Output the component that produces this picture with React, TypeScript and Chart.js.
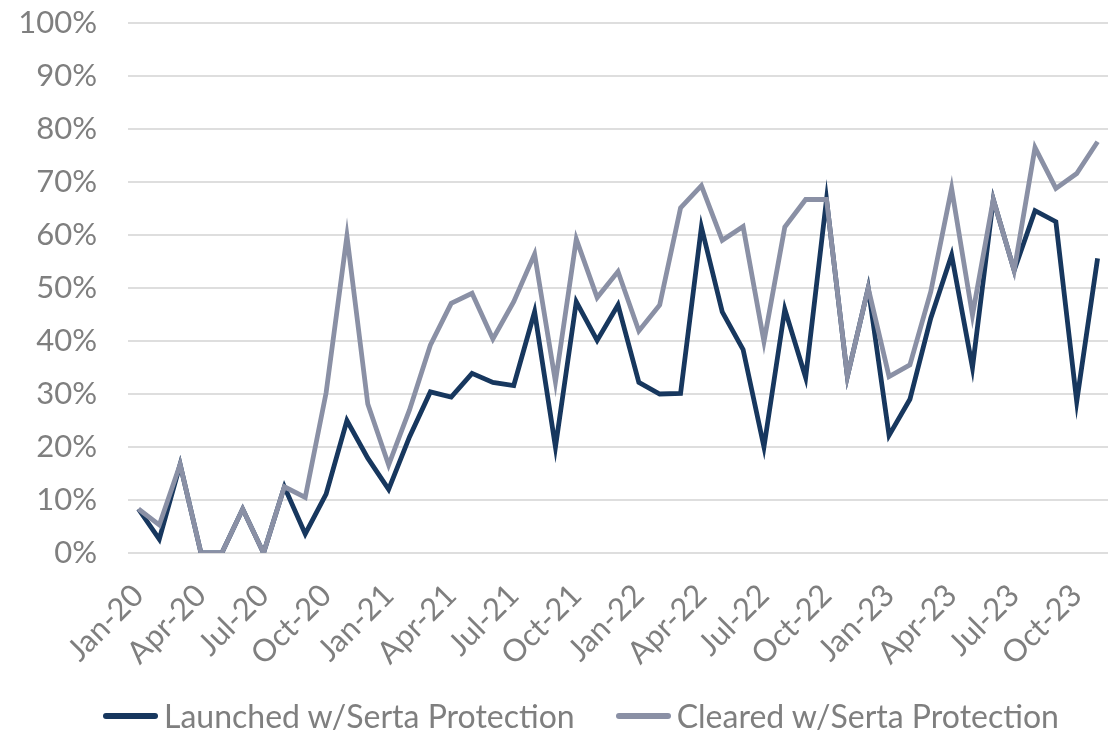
import React, { useEffect, useRef } from "react";
import { Chart, registerables } from "chart.js";

Chart.register(...registerables);

const months = [
  "Jan-20","Feb-20","Mar-20","Apr-20","May-20","Jun-20","Jul-20","Aug-20","Sep-20","Oct-20","Nov-20","Dec-20",
  "Jan-21","Feb-21","Mar-21","Apr-21","May-21","Jun-21","Jul-21","Aug-21","Sep-21","Oct-21","Nov-21","Dec-21",
  "Jan-22","Feb-22","Mar-22","Apr-22","May-22","Jun-22","Jul-22","Aug-22","Sep-22","Oct-22","Nov-22","Dec-22",
  "Jan-23","Feb-23","Mar-23","Apr-23","May-23","Jun-23","Jul-23","Aug-23","Sep-23","Oct-23","Nov-23",
];

const launched = [
  8.3, 2.6, 16.7, 0, 0, 8.3, 0, 12.5, 3.6, 11.1, 25.0, 17.9,
  12.0, 21.9, 30.4, 29.4, 33.9, 32.2, 31.6, 45.5, 20.0, 47.4, 40.1, 46.8,
  32.2, 30.0, 30.1, 61.5, 45.5, 38.4, 20.0, 46.0, 33.1, 66.7, 33.3, 50.0,
  22.2, 29.0, 44.3, 56.2, 35.0, 66.7, 53.3, 64.6, 62.5, 28.6, 55.6,
];

const cleared = [
  8.3, 5.3, 16.7, 0, 0, 8.3, 0, 12.5, 10.5, 30.2, 59.8, 28.1,
  16.6, 27.0, 39.2, 47.1, 49.0, 40.4, 47.4, 56.4, 32.3, 59.2, 48.2, 53.1,
  41.9, 46.8, 65.1, 69.3, 59.0, 61.6, 39.9, 61.5, 66.7, 66.7, 33.3, 50.0,
  33.3, 35.5, 49.3, 68.8, 44.9, 66.7, 53.3, 76.5, 68.8, 71.6, 77.6,
];

const seriesNames = ["Launched w/Serta Protection", "Cleared w/Serta Protection"];
const seriesColors = ["#17375E", "#8A90A5"];

export default function App() {
  const canvasRef = useRef<HTMLCanvasElement | null>(null);

  useEffect(() => {
    document.body.style.margin = "0";
    const canvas = canvasRef.current;
    if (!canvas) return;
    const chart = new Chart(canvas, {
      type: "line",
      data: {
        labels: months,
        datasets: [
          {
            label: seriesNames[1],
            data: cleared,
            borderColor: seriesColors[1],
            backgroundColor: seriesColors[1],
            borderWidth: 4.8,
            pointRadius: 0,
            tension: 0,
            order: 0,
          },
          {
            label: seriesNames[0],
            data: launched,
            borderColor: seriesColors[0],
            backgroundColor: seriesColors[0],
            borderWidth: 4.8,
            pointRadius: 0,
            tension: 0,
            order: 1,
          },
        ],
      },
      options: {
        animation: false,
        responsive: false,
        maintainAspectRatio: false,
        layout: { padding: { top: 23, right: 8, left: 0, bottom: 0 } },
        plugins: {
          legend: { display: false },
          tooltip: { enabled: false },
        },
        scales: {
          x: {
            offset: true,
            grid: { display: false, drawTicks: false },
            border: { display: false },
            ticks: {
              autoSkip: false,
              minRotation: 45,
              maxRotation: 45,
              padding: 24,
              color: "#7F7F7F",
              font: { family: "Lato", size: 31 },
              callback: function (_v: any, i: number) {
                return i % 3 === 0 ? months[i] : "";
              },
            },
            afterFit: (s: any) => {
              s.height = 179;
              s.paddingLeft = 0;
              s.paddingRight = 0;
            },
          },
          y: {
            min: 0,
            max: 100,
            grid: { color: "#DEDEDE", lineWidth: 2, drawTicks: false },
            border: { display: false },
            ticks: {
              stepSize: 10,
              padding: 31,
              color: "#7F7F7F",
              font: { family: "Lato", size: 31 },
              callback: (v: any) => v + "%",
            },
            afterFit: (s: any) => {
              s.width = 128;
              s.paddingTop = 0;
              s.paddingBottom = 0;
            },
          },
        },
      },
    });
    return () => chart.destroy();
  }, []);

  const legendItem = (i: number) => (
    <div style={{ display: "flex", alignItems: "center" }}>
      <div
        style={{
          width: 55,
          height: 6,
          borderRadius: 3,
          background: seriesColors[i],
          marginRight: 6,
        }}
      />
      <span style={{ fontFamily: "Lato", fontSize: 32, color: "#7F7F7F", lineHeight: "32px" }}>
        {seriesNames[i]}
      </span>
    </div>
  );

  return (
    <div style={{ position: "relative", width: 1116, height: 732 }}>
      <canvas ref={canvasRef} width={1116} height={732} style={{ display: "block" }} />
      <div
        style={{
          position: "absolute",
          left: 103,
          top: 700,
          display: "flex",
          alignItems: "center",
          gap: 41,
        }}
      >
        {legendItem(0)}
        {legendItem(1)}
      </div>
    </div>
  );
}
